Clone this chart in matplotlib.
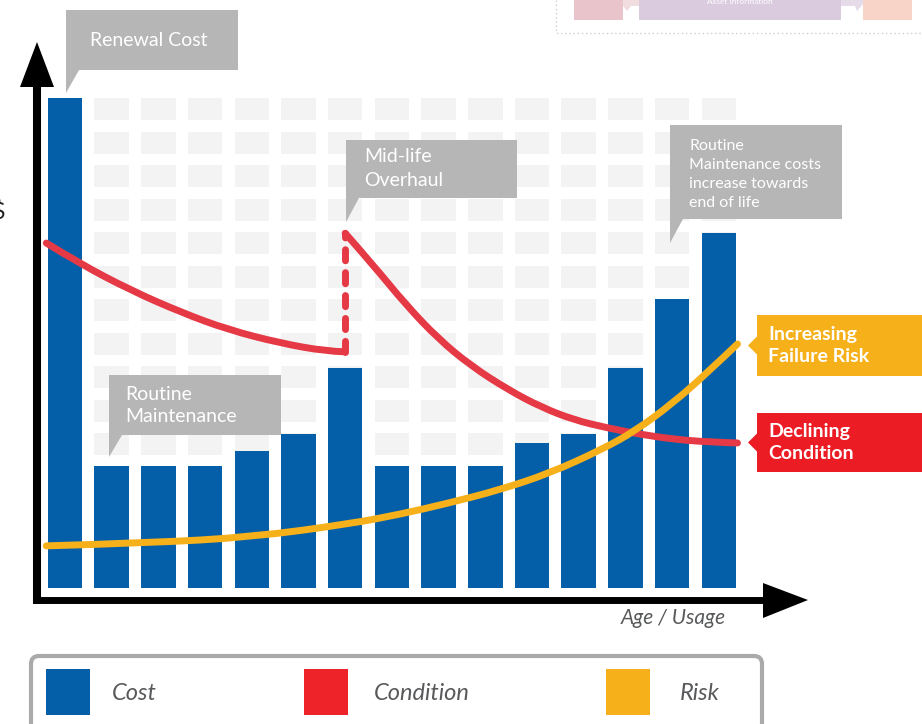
import matplotlib
matplotlib.use("Agg")
import matplotlib.pyplot as plt
from matplotlib.patches import Rectangle, Polygon, FancyBboxPatch, PathPatch
from matplotlib.path import Path

# cost per age step (renewal at start, overhaul at step 6)
ages = list(range(15))
cost = [100, 25, 25, 25, 28, 31.5, 45, 25, 25, 25, 29.5, 31.5, 45, 59, 72.5]

# condition curve, before and after the mid-life overhaul
overhaul_age = 6
cond_before_x = [-0.4, 0.3, 1.4, 2.5, 3.5, 4.6, 5.6, 6.0]
cond_before_y = [70.4, 66.3, 60.8, 56.2, 52.7, 50.0, 48.3, 48.2]
cond_after_x = [6.0, 6.6, 7.3, 8.0, 8.7, 9.5, 10.2, 10.9, 11.6, 12.3, 13.0, 13.75, 14.4]
cond_after_y = [72.4, 65.9, 57.8, 50.8, 45.3, 40.4, 36.9, 34.3, 32.7, 31.4, 30.4, 29.8, 29.6]

# failure risk curve
risk_x = [-0.4, 1.8, 4.0, 6.1, 7.2, 8.2, 9.3, 10.4, 11.5, 12.2, 13.0, 13.75, 14.4]
risk_y = [8.6, 9.2, 10.4, 13.1, 15.1, 17.3, 20.0, 23.5, 28.3, 32.0, 37.6, 43.9, 49.8]

legend_labels = ["Cost", "Condition", "Risk"]

BLUE = "#055fa8"
RED = "#e53a45"
ORANGE = "#f5b01a"
GRAY = "#b2b2b2"
TXT = "#58595b"
FONT = "Lato"

W, H = 922, 724
# pixel position of age 0 / value 0 and pixels per unit
X0, DX = 65.0, 46.7
Y0, DY = 588.0, 4.9

fig = plt.figure(figsize=(W / 100, H / 100), dpi=100)

# data axes, scaled so the bars land where they are in the picture
ax = fig.add_axes([0, 0, 1, 1])
ax.set_xlim(-X0 / DX, (W - X0) / DX)
ax.set_ylim((Y0 - H) / DY, Y0 / DY)
ax.axis("off")


def smooth_line(xs, ys, color, z):
    # quadratic bezier through the midpoints, so the hand-drawn look stays smooth
    verts = [(xs[0], ys[0])]
    codes = [Path.MOVETO]
    n = len(xs)
    for i in range(1, n - 1):
        if i < n - 2:
            end = ((xs[i] + xs[i + 1]) / 2, (ys[i] + ys[i + 1]) / 2)
        else:
            end = (xs[-1], ys[-1])
        verts += [(xs[i], ys[i]), end]
        codes += [Path.CURVE3, Path.CURVE3]
    ax.add_patch(PathPatch(Path(verts, codes), fill=False, ec=color, lw=5.0,
                           capstyle="round", joinstyle="round", zorder=z))


# pale background squares behind the bars
for col in ages[1:]:
    for row in range(11):
        top = (Y0 - 98 - 33.5 * row) / DY
        ax.add_patch(Rectangle((col - 0.37, top - 22 / DY), 0.74, 22 / DY,
                               fc="#f3f3f3", ec="none", zorder=0))

ax.bar(ages, cost, width=0.74, color=BLUE, zorder=2)

smooth_line(cond_before_x, cond_before_y, RED, 3)
ax.plot([overhaul_age, overhaul_age], [cond_before_y[-1], cond_after_y[0]], color=RED,
        lw=5.0, dashes=(1.6, 1.7), dash_capstyle="round", zorder=3)
smooth_line(cond_after_x, cond_after_y, RED, 3)
smooth_line(risk_x, risk_y, ORANGE, 4)

# overlay in pixel coords for arrows, callouts and legend
ov = fig.add_axes([0, 0, 1, 1])
ov.set_xlim(0, W)
ov.set_ylim(H, 0)
ov.axis("off")
ov.patch.set_alpha(0)

# axis arrows
ov.plot([37, 37], [603.5, 84], color="black", lw=5.8, solid_capstyle="butt")
ov.add_patch(Polygon([(20, 87), (54, 87), (37, 42)], fc="black", ec="none"))
ov.plot([32.5, 766], [600, 600], color="black", lw=5.0, solid_capstyle="butt")
ov.add_patch(Polygon([(763, 583), (763, 618), (808, 600)], fc="black", ec="none"))
ov.text(726, 618, "Age / Usage", ha="right", va="center", fontsize=15,
        style="italic", color=TXT, family=FONT)
ov.text(5, 213, "$", ha="right", va="center", fontsize=17, color="#231f20", family=FONT)


def callout(x0, y0, x1, y1, tip, lines, tx, ty, step, fs):
    pts = [(x0, y0), (x1, y0), (x1, y1), (x0 + 13, y1), (x0, tip)]
    ov.add_patch(Polygon(pts, closed=True, fc=GRAY, ec="none", alpha=0.94, zorder=5))
    for i, s in enumerate(lines):
        ov.text(tx, ty + i * step, s, ha="left", va="center", fontsize=fs,
                color="white", family=FONT, zorder=6)


callout(66, 10, 238, 70, 93, ["Renewal Cost"], 90, 40, 0, 14)
callout(346, 140, 517, 198, 222, ["Mid-life", "Overhaul"], 364, 157, 23, 14)
callout(109, 375, 281, 435, 457, ["Routine", "Maintenance"], 125, 394, 22, 14)
callout(670, 125, 842, 219, 243,
        ["Routine", "Maintenance costs", "increase towards", "end of life"],
        689, 146, 19, 11.5)


def side_label(y0, y1, color, lines):
    mid = (y0 + y1) / 2
    pts = [(757, y0), (W, y0), (W, y1), (757, y1), (757, mid + 9), (748, mid), (757, mid - 9)]
    ov.add_patch(Polygon(pts, closed=True, fc=color, ec="none", zorder=5))
    for i, s in enumerate(lines):
        ov.text(768, mid - 11 + i * 22, s, ha="left", va="center", fontsize=14,
                fontweight="bold", color="white", family=FONT, zorder=6)


side_label(315, 376, ORANGE, ["Increasing", "Failure Risk"])
side_label(413, 472, "#ec1c24", ["Declining", "Condition"])

# legend box at the bottom
ov.add_patch(FancyBboxPatch((31, 656), 731, 90, boxstyle="round,pad=0,rounding_size=8",
                            fc="white", ec="#aaaaaa", lw=3, zorder=5))
for (sx, tx), c, lab in zip([(46, 112), (304, 374), (606, 680)], [BLUE, "#ee2229", ORANGE],
                            legend_labels):
    ov.add_patch(Rectangle((sx, 669), 44, 46, fc=c, ec="none", zorder=6))
    ov.text(tx, 693, lab, ha="left", va="center", fontsize=17, style="italic",
            color=TXT, family=FONT, zorder=6)

# corner of the neighbouring figure, top right
ov.plot([556, 556, W], [0, 33, 33], color="#cfcfcf", lw=1, ls=(0, (1, 2)))
ov.add_patch(Rectangle((574, -2), 49, 22, fc="#e9c5cb", ec="none"))
ov.add_patch(Polygon([(623, 0), (640, 0), (640, 6), (631, 6), (627, 11), (623, 6)],
                     fc="#f1dde0", ec="none"))
ov.add_patch(Rectangle((639, -2), 202, 22, fc="#dacbdf", ec="none"))
ov.add_patch(Polygon([(841, 0), (863, 0), (863, 4), (857, 11), (855, 6), (841, 6)],
                     fc="#e6dbe9", ec="none"))
ov.add_patch(Rectangle((863, -2), 49, 22, fc="#f8d3c8", ec="none"))
ov.text(740, 1, "Asset Information", ha="center", va="center", fontsize=6,
        color="white", family=FONT)

fig.savefig("out.png", dpi=100)
